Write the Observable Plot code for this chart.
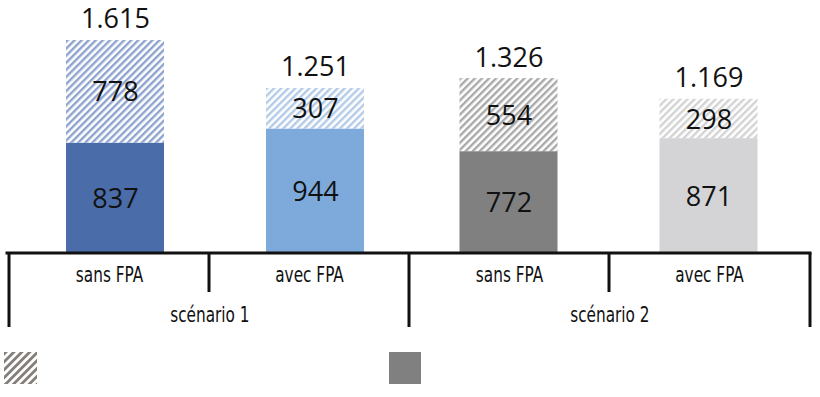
<!DOCTYPE html>
<html>
<head>
<meta charset="utf-8">
<script src="https://cdn.jsdelivr.net/npm/d3@7"></script>
<script src="https://cdn.jsdelivr.net/npm/@observablehq/plot@0.6"></script>
<style>
  html, body { margin: 0; padding: 0; background: #fff; }
  #chart { width: 820px; position: relative; }
  #legend { position: relative; width: 820px; height: 40px; margin-top: 17px; }
  #legend svg { position: absolute; top: 0; }
</style>
</head>
<body>
<div id="chart"></div>
<div id="legend"></div>
<script>
// ---- data ----
const scenarios = ["scénario 1", "scénario 1", "scénario 2", "scénario 2"];
const categories = ["sans FPA", "avec FPA", "sans FPA", "avec FPA"];
const solidValues = [837, 944, 772, 871];
const hatchValues = [778, 307, 554, 298];
const totalLabels = ["1.615", "1.251", "1.326", "1.169"];
const scenarioNames = ["scénario 1", "scénario 2"];

// ---- styles ----
const solidColors = ["#4a6ca9", "#7eaadb", "#808080", "#d4d4d6"];
const hatchColors = ["#8ea3cd", "#b2cbe8", "#a9a9a9", "#d3d3d3"];
const legendHatchColor = "#857f7b";
const legendSolidColor = "#808080";
// per-scenario bar insets inside each band
const insetsByScenario = {"scénario 1": [57, 45], "scénario 2": [50.5, 51.5]};

const keys = scenarios.map((s, i) => s + "|" + categories[i] + "|" + i);
const rows = [];
keys.forEach((k, i) => {
  rows.push({key: k, scen: scenarios[i], part: "solid", value: solidValues[i], fill: solidColors[i]});
  rows.push({key: k, scen: scenarios[i], part: "hatch", value: hatchValues[i], fill: `url(#hatch${i})`});
});
const totals = keys.map((k, i) => ({key: k, scen: scenarios[i], total: solidValues[i] + hatchValues[i], label: totalLabels[i]}));
const scenarioStarts = scenarioNames.map(n => ({key: keys[scenarios.indexOf(n)], name: n}));

const W = 820, H = 335, mL = 7, mR = 10, mT = 0, mB = 82;
const bandW = (W - mL - mR) / keys.length;

const numFont = "'Open Sans', 'Noto Sans', sans-serif";
const labFont = "'Liberation Sans Narrow', 'DejaVu Sans Condensed', 'Roboto', sans-serif";

function axisMark(index, scales, values, dims) {
  const x = scales.x, y = scales.y;
  const g = d3.create("svg:g").attr("stroke", "#111").attr("stroke-width", 3).attr("fill", "none");
  const y0 = y(0);
  g.append("line").attr("x1", dims.marginLeft - 1.5).attr("x2", dims.width - dims.marginRight + 1.5).attr("y1", y0).attr("y2", y0);
  keys.forEach((k, i) => {
    const major = i === 0 || scenarios[i] !== scenarios[i - 1];
    g.append("line").attr("x1", x(k)).attr("x2", x(k)).attr("y1", y0).attr("y2", y0 + (major ? 74 : 39));
  });
  const xr = dims.width - dims.marginRight;
  g.append("line").attr("x1", xr).attr("x2", xr).attr("y1", y0).attr("y2", y0 + 74);
  return g.node();
}

const scenarioMarks = scenarioNames.flatMap(s => {
  const [iL, iR] = insetsByScenario[s];
  const dx = (iL - iR) / 2;
  const r = rows.filter(d => d.scen === s);
  const t = totals.filter(d => d.scen === s);
  return [
    Plot.barY(r, {x: "key", y: "value", fill: "fill", insetLeft: iL, insetRight: iR}),
    Plot.text(r, Plot.stackY({x: "key", y: "value", text: d => String(d.value),
      fontSize: 27, fontFamily: numFont, fill: "#111", lineAnchor: "middle", dx, dy: 1})),
    Plot.text(t, {x: "key", y: "total", text: "label", fontSize: 27, fontFamily: numFont,
      fill: "#111", lineAnchor: "bottom", dx, dy: -12})
  ];
});

const plot = Plot.plot({
  width: W, height: H,
  marginLeft: mL, marginRight: mR, marginTop: mT, marginBottom: mB,
  x: {domain: keys, padding: 0, axis: null},
  y: {domain: [0, 1918], axis: null},
  color: {type: "identity"},
  style: {background: "#fff", overflow: "visible"},
  marks: [
    ...scenarioMarks,
    Plot.text(keys, {x: d => d, text: (d, i) => categories[i], frameAnchor: "bottom",
      lineAnchor: "bottom", dy: 28, fontSize: 21, fontFamily: labFont, fill: "#111", className: "catlab"}),
    Plot.text(scenarioStarts, {x: "key", text: "name", frameAnchor: "bottom",
      lineAnchor: "bottom", dx: bandW / 2, dy: 68, fontSize: 21, fontFamily: labFont, fill: "#111", className: "catlab"}),
    axisMark
  ]
});

// hatch patterns
const defs = d3.select(plot).insert("defs", ":first-child");
hatchColors.forEach((c, i) => {
  const p = defs.append("pattern").attr("id", `hatch${i}`).attr("patternUnits", "userSpaceOnUse")
    .attr("width", 5).attr("height", 5).attr("patternTransform", "rotate(45)");
  p.append("rect").attr("width", 5).attr("height", 5).attr("fill", "#fff");
  p.append("rect").attr("width", 2.4).attr("height", 5).attr("fill", c);
});
document.getElementById("chart").append(plot);

// condense axis labels horizontally (the reference uses a condensed face)
d3.select(plot).selectAll(".catlab text").each(function () {
  const w = this.getComputedTextLength();
  this.setAttribute("textLength", w * 0.81);
  this.setAttribute("lengthAdjust", "spacingAndGlyphs");
});

// legend (no text in the reference)
const legend = d3.select("#legend");
const l1 = legend.append("svg").attr("width", 33).attr("height", 32).style("left", "4px");
const lp = l1.append("defs").append("pattern").attr("id", "legHatch").attr("patternUnits", "userSpaceOnUse")
  .attr("width", 5.6).attr("height", 5.6).attr("patternTransform", "rotate(45)");
lp.append("rect").attr("width", 5.6).attr("height", 5.6).attr("fill", "#fff");
lp.append("rect").attr("width", 2.8).attr("height", 5.6).attr("fill", legendHatchColor);
l1.append("rect").attr("width", 33).attr("height", 32).attr("fill", "url(#legHatch)");
const l2 = legend.append("svg").attr("width", 32).attr("height", 32).style("left", "389px");
l2.append("rect").attr("width", 32).attr("height", 32).attr("fill", legendSolidColor);
</script>
</body>
</html>
